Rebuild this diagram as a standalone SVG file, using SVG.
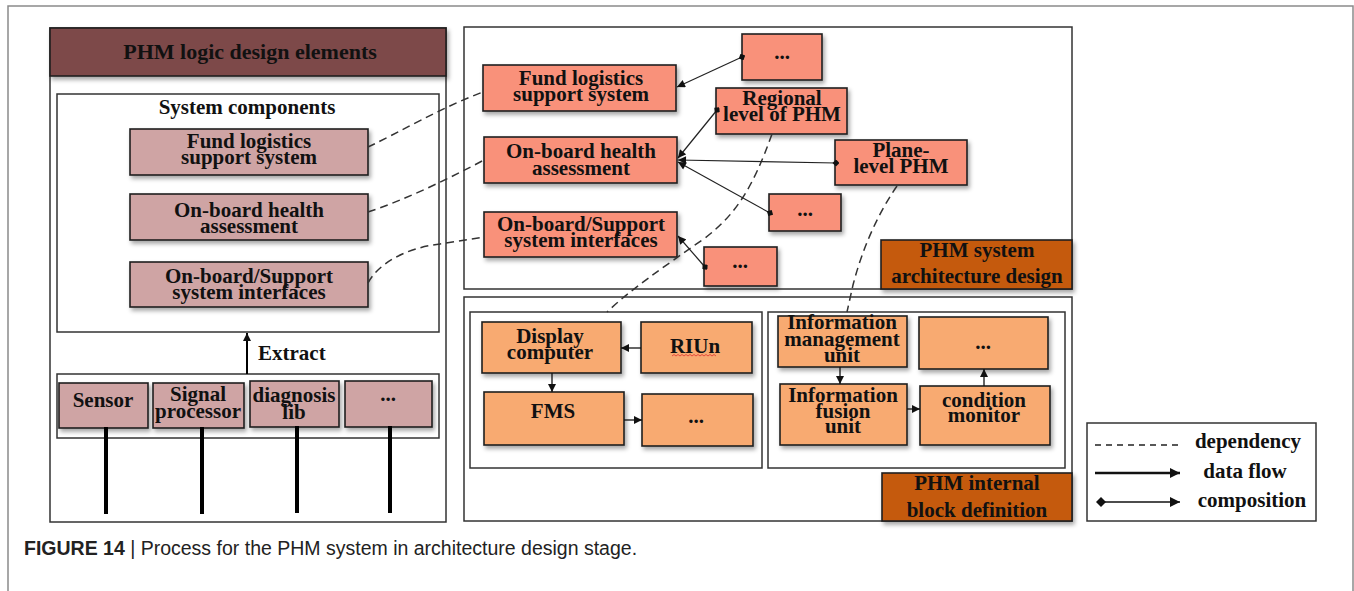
<svg xmlns="http://www.w3.org/2000/svg" width="1354" height="591" viewBox="0 0 1354 591">
<defs>
<style>
text{font-family:"Liberation Serif","Times New Roman",serif;font-weight:bold;font-size:21px;fill:#111;text-anchor:middle}
.title{font-size:22px}
.cap{font-family:"Liberation Sans",Arial,sans-serif;font-weight:normal;font-size:19.5px;text-anchor:start;fill:#222}
.capb{font-weight:bold}
.frame{fill:none;stroke:#8a8a8a;stroke-width:1.5}
.cont{fill:#fff;stroke:#333;stroke-width:1.5}
.inner{fill:none;stroke:#333;stroke-width:1.5}
.box{stroke:#1e1e1e;stroke-width:1.6;filter:url(#sh)}
.pink{fill:#cfa4a4}
.maroon{fill:#7d4848}
.salmon{fill:#f9917a}
.orange{fill:#f8aa71}
.label{fill:#c55a11}
.dep{fill:none;stroke:#333;stroke-width:1.5;stroke-dasharray:8 5}
.comp{fill:none;stroke:#222;stroke-width:1.2;marker-start:url(#dia);marker-end:url(#tri)}
.flow{fill:none;stroke:#111;stroke-width:1.3;marker-end:url(#tri)}
.bar{stroke:#000;stroke-width:4}
</style>
<filter id="sh" x="-10%" y="-10%" width="130%" height="140%">
<feDropShadow dx="2" dy="3" stdDeviation="2" flood-color="#000" flood-opacity="0.35"/>
</filter>
<marker id="tri" viewBox="0 0 10 10" refX="10" refY="5" markerWidth="9" markerHeight="8" markerUnits="userSpaceOnUse" orient="auto">
<path d="M0,0 L10,5 L0,10 z" fill="#111"/>
</marker>
<marker id="dia" viewBox="0 0 10 10" refX="5" refY="5" markerWidth="7" markerHeight="7" markerUnits="userSpaceOnUse" orient="auto">
<path d="M0,5 L5,0 L10,5 L5,10 z" fill="#111"/>
</marker>
<marker id="triL" viewBox="0 0 10 10" refX="10" refY="5" markerWidth="14" markerHeight="10" markerUnits="userSpaceOnUse" orient="auto">
<path d="M0,0 L10,5 L0,10 z" fill="#111"/>
</marker>
<marker id="diaL" viewBox="0 0 10 10" refX="5" refY="5" markerWidth="10" markerHeight="10" markerUnits="userSpaceOnUse" orient="auto">
<path d="M0,5 L5,0 L10,5 L5,10 z" fill="#111"/>
</marker>
</defs>
<rect width="1354" height="591" fill="#fff"/>
<path class="frame" d="M8,591 L8,6 L1353,6 L1353,591"/>

<!-- Left panel -->
<g id="logic-panel">
<rect class="cont" x="50" y="28" width="396" height="494"/>
<rect class="box maroon" x="50" y="28" width="396" height="48"/>
<text class="title" x="250" y="59">PHM logic design elements</text>
</g>
<g id="system-components">
<rect class="inner" x="57" y="94" width="382" height="238"/>
<text x="247" y="114">System components</text>
</g>
<g id="l-fund">
<rect class="box pink" x="130" y="129" width="238" height="46"/>
<text x="249" y="148">Fund logistics</text>
<text x="249" y="164">support system</text>
</g>
<g id="l-health">
<rect class="box pink" x="130" y="194" width="238" height="46"/>
<text x="249" y="217">On-board health</text>
<text x="249" y="233">assessment</text>
</g>
<g id="l-interfaces">
<rect class="box pink" x="130" y="262" width="238" height="45"/>
<text x="249" y="283">On-board/Support</text>
<text x="249" y="299">system interfaces</text>
</g>
<g id="sources">
<rect class="inner" x="57" y="374" width="382" height="64"/>
</g>
<g id="sensor">
<rect class="box pink" x="59" y="383" width="89" height="45"/>
<text x="103" y="407">Sensor</text>
</g>
<g id="signal">
<rect class="box pink" x="153" y="383" width="91" height="45"/>
<text x="198" y="401">Signal</text>
<text x="198" y="418">processor</text>
</g>
<g id="diag">
<rect class="box pink" x="250" y="381" width="89" height="46"/>
<text x="294" y="402">diagnosis</text>
<text x="294" y="419">lib</text>
</g>
<g id="src-more">
<rect class="box pink" x="345" y="381" width="87" height="46"/>
<text x="388" y="401">...</text>
</g>

<!-- Architecture panel -->
<g id="arch-panel">
<rect class="cont" x="464" y="27" width="608" height="262"/>
<rect class="box label" x="881" y="240" width="191" height="49"/>
<text x="977" y="257">PHM system</text>
<text x="977" y="283">architecture design</text>
</g>
<g id="r-fund">
<rect class="box salmon" x="483" y="65" width="193" height="46"/>
<text x="581" y="85">Fund logistics</text>
<text x="581" y="101">support system</text>
</g>
<g id="r-more1">
<rect class="box salmon" x="742" y="34" width="80" height="46"/>
<text x="782" y="59">...</text>
</g>
<g id="regional">
<rect class="box salmon" x="716" y="88" width="131" height="46"/>
<text x="782" y="105">Regional</text>
<text x="782" y="121">level of PHM</text>
</g>
<g id="r-health">
<rect class="box salmon" x="484" y="137" width="193" height="46"/>
<text x="581" y="158">On-board health</text>
<text x="581" y="175">assessment</text>
</g>
<g id="plane">
<rect class="box salmon" x="835" y="140" width="132" height="45"/>
<text x="901" y="157">Plane-</text>
<text x="901" y="173">level PHM</text>
</g>
<g id="r-more2">
<rect class="box salmon" x="769" y="194" width="72" height="37"/>
<text x="805" y="216">...</text>
</g>
<g id="r-interfaces">
<rect class="box salmon" x="484" y="212" width="193" height="45"/>
<text x="581" y="231">On-board/Support</text>
<text x="581" y="247">system interfaces</text>
</g>
<g id="r-more3">
<rect class="box salmon" x="704" y="247" width="73" height="39"/>
<text x="740" y="268">...</text>
</g>

<!-- Internal block panel -->
<g id="internal-panel">
<rect class="cont" x="464" y="297" width="608" height="224"/>
<rect class="box label" x="882" y="473" width="190" height="48"/>
<text x="977" y="490">PHM internal</text>
<text x="977" y="517">block definition</text>
</g>
<g id="left-block">
<rect class="inner" x="470" y="312" width="292" height="156"/>
</g>
<g id="right-block">
<rect class="inner" x="768" y="312" width="297" height="156"/>
</g>
<g id="display">
<rect class="box orange" x="482" y="322" width="139" height="51"/>
<text x="550" y="343">Display</text>
<text x="550" y="359">computer</text>
</g>
<g id="riun">
<rect class="box orange" x="641" y="322" width="111" height="51"/>
<text x="695" y="353">RIUn</text>
<path d="M672,356 l2,-1.5 l2,1.5 l2,-1.5 l2,1.5 l2,-1.5 l2,1.5 l2,-1.5 l2,1.5 l2,-1.5 l2,1.5 l2,-1.5 l2,1.5 l2,-1.5 l2,1.5 l2,-1.5 l2,1.5 l2,-1.5 l2,1.5 l2,-1.5 l2,1.5 l2,-1.5 l2,1.5" fill="none" stroke="#e03030" stroke-width="0.8"/>
</g>
<g id="fms">
<rect class="box orange" x="484" y="392" width="140" height="53"/>
<text x="553" y="418">FMS</text>
</g>
<g id="l-more">
<rect class="box orange" x="642" y="394" width="111" height="52"/>
<text x="696" y="423">...</text>
</g>
<g id="info-mgmt">
<rect class="box orange" x="778" y="316" width="129" height="51"/>
<text x="842" y="329">Information</text>
<text x="842" y="346">management</text>
<text x="842" y="362">unit</text>
</g>
<g id="i-more">
<rect class="box orange" x="919" y="317" width="129" height="52"/>
<text x="983" y="349">...</text>
</g>
<g id="info-fusion">
<rect class="box orange" x="780" y="384" width="127" height="61"/>
<text x="843" y="402">Information</text>
<text x="843" y="418">fusion</text>
<text x="843" y="433">unit</text>
</g>
<g id="cond">
<rect class="box orange" x="920" y="386" width="130" height="59"/>
<text x="984" y="407">condition</text>
<text x="984" y="422">monitor</text>
</g>

<!-- Legend -->
<g id="legend">
<rect class="cont" x="1087" y="423" width="229" height="98"/>
<line x1="1095" y1="445" x2="1180" y2="445" stroke="#222" stroke-width="1.3" stroke-dasharray="6 5"/>
<line x1="1095" y1="473" x2="1180" y2="473" stroke="#111" stroke-width="2.6" marker-end="url(#triL)"/>
<line x1="1101" y1="502" x2="1180" y2="502" stroke="#111" stroke-width="1.5" marker-start="url(#diaL)" marker-end="url(#triL)"/>
<text x="1248" y="448">dependency</text>
<text x="1245" y="478">data flow</text>
<text x="1252" y="507">composition</text>
</g>

<!-- Connectors -->
<g id="connectors">
<line x1="247" y1="374" x2="247" y2="333" stroke="#000" stroke-width="2" marker-end="url(#tri)"/>
<text x="258" y="360" style="text-anchor:start">Extract</text>
<line class="bar" x1="106" y1="427" x2="106" y2="514"/>
<line class="bar" x1="202" y1="427" x2="202" y2="514"/>
<line class="bar" x1="297" y1="426" x2="297" y2="513"/>
<line class="bar" x1="390" y1="426" x2="390" y2="513"/>

<path class="dep" d="M368,147 C400,132 440,108 483,92"/>
<path class="dep" d="M368,212 C405,200 450,178 484,160"/>
<path class="dep" d="M368,283 C378,264 405,248 440,244 L484,237"/>
<path class="dep" d="M772,134 C752,190 735,215 705,238 C665,266 630,290 607,312"/>
<path class="dep" d="M897,186 C877,215 862,250 853,285 L847,312"/>

<line class="comp" x1="742" y1="57" x2="677" y2="87"/>
<line class="comp" x1="717" y1="110" x2="678" y2="158"/>
<line class="comp" x1="836" y1="163" x2="678" y2="160"/>
<line class="comp" x1="770" y1="213" x2="678" y2="162"/>
<line class="comp" x1="705" y1="267" x2="678" y2="236"/>

<line class="flow" x1="641" y1="348" x2="621" y2="348"/>
<line class="flow" x1="552" y1="373" x2="552" y2="392"/>
<line class="flow" x1="624" y1="420" x2="642" y2="420"/>
<line class="flow" x1="840" y1="367" x2="840" y2="384"/>
<line class="flow" x1="907" y1="409" x2="920" y2="409"/>
<line class="flow" x1="984" y1="386" x2="984" y2="369"/>
</g>

<text class="cap" x="24" y="555"><tspan class="capb">FIGURE 14</tspan> | Process for the PHM system in architecture design stage.</text>
</svg>
